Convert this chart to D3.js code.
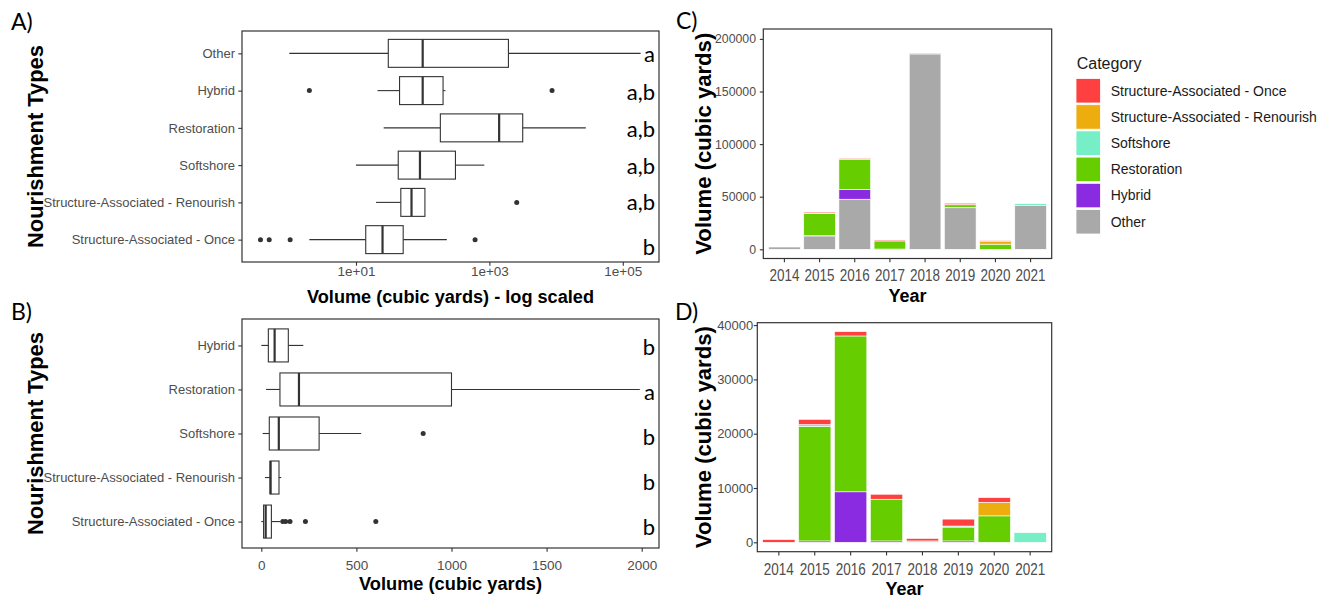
<!DOCTYPE html>
<html><head><meta charset="utf-8">
<script src="https://cdn.jsdelivr.net/npm/d3@7"></script>
<style>body{margin:0;background:#fff}svg{display:block}</style>
</head><body>
<svg id="c" width="1334" height="599"></svg>
<script>
// ---------- DATA ----------
// Panel A (log scale)
const catsA = ["Other","Hybrid","Restoration","Softshore","Structure-Associated - Renourish","Structure-Associated - Once"];
const lowA  = [1.0, 21, 26, 10, 20, 2.0];
const q1A   = [30.5, 45, 184, 43, 47, 14];
const medA  = [100, 100, 1400, 91, 68, 25];
const q3A   = [1930, 202, 3160, 310, 108, 51];
const highA = [185000, 219, 27900, 840, 108, 230];
const outA  = [[], [2, 8700], [], [], [2570], [0.37, 0.5, 1.03, 610]];
const sigA  = ["a","a,b","a,b","a,b","a,b","b"];
const ticksA = [10, 1000, 100000];
const tickLabelsA = ["1e+01","1e+03","1e+05"];

// Panel B (linear)
const catsB = ["Hybrid","Restoration","Softshore","Structure-Associated - Renourish","Structure-Associated - Once"];
const lowB  = [0, 25, 7, 19, 0];
const q1B   = [37, 98, 42, 46, 12];
const medB  = [70, 198, 92, 49, 23];
const q3B   = [142, 1000, 304, 93, 53];
const highB = [221, 1990, 525, 105, 100];
const outB  = [[], [], [851], [], [113, 128, 151, 232, 602]];
const sigB  = ["b","a","b","b","b"];
const ticksB = [0, 500, 1000, 1500, 2000];

// Panels C & D (stacked bars)
const years = ["2014","2015","2016","2017","2018","2019","2020","2021"];
const legendCats = ["Structure-Associated - Once","Structure-Associated - Renourish","Softshore","Restoration","Hybrid","Other"];
const legendColors = ["#FF4040","#EEAD0E","#76EEC6","#66CD00","#8A2BE2","#A9A9A9"];
const once        = [500, 980, 800, 920, 450, 1280, 855, 0];
const renourish   = [0, 0, 0, 0, 0, 0, 2500, 0];
const softshore   = [0, 370, 0, 0, 250, 190, 0, 1770];
const restoration = [0, 21050, 28700, 7680, 0, 2550, 4870, 0];
const hybrid      = [0, 250, 9300, 250, 0, 250, 0, 0];
const other       = [2300, 12700, 47600, 0, 185700, 39500, 0, 41600];
const ticksC = [0, 50000, 100000, 150000, 200000];
const ticksD = [0, 10000, 20000, 30000, 40000];

// ---------- LAYOUT ----------
const svg = d3.select("#c");
svg.append("rect").attr("width",1334).attr("height",599).attr("fill","#fff");
const SANS = "'Liberation Sans', Arial, sans-serif";
const HUMAN = "Lato, 'Open Sans', sans-serif";
const INK = "#333333", TICKTXT = "#4D4D4D";

function panelLetter(t, x, y){
  svg.append("text").attr("x",x).attr("y",y).text(t)
    .attr("font-family",HUMAN).attr("font-size",23).attr("fill","#000");
}
function title(t, x, y, size, rot, len){
  const el = svg.append("text").text(t)
    .attr("font-family",SANS).attr("font-weight","bold").attr("font-size",size)
    .attr("fill","#000").attr("text-anchor","middle")
    .attr("transform",`translate(${x},${y})` + (rot ? " rotate(-90)" : ""));
  if (len) el.attr("textLength",len).attr("lengthAdjust","spacingAndGlyphs");
}

function boxPanel(o){
  const g = svg.append("g");
  const x = o.x, y = o.y, bh = y.step()*0.75;
  const rows = o.cats.map((c,i)=>({c, i, lo:o.low[i], q1:o.q1[i], md:o.med[i], q3:o.q3[i], hi:o.high[i], out:o.out[i]}));
  const r = g.selectAll("g.row").data(rows).join("g").attr("class","row");
  r.append("line").attr("x1",d=>x(d.lo)).attr("x2",d=>x(d.q1)).attr("y1",d=>y(d.c)).attr("y2",d=>y(d.c))
    .attr("stroke",INK).attr("stroke-width",1.1);
  r.append("line").attr("x1",d=>x(d.q3)).attr("x2",d=>x(d.hi)).attr("y1",d=>y(d.c)).attr("y2",d=>y(d.c))
    .attr("stroke",INK).attr("stroke-width",1.1);
  r.append("rect").attr("x",d=>x(d.q1)).attr("y",d=>y(d.c)-bh/2).attr("width",d=>x(d.q3)-x(d.q1)).attr("height",bh)
    .attr("fill","#fff").attr("stroke",INK).attr("stroke-width",1.1);
  r.append("line").attr("x1",d=>x(d.md)).attr("x2",d=>x(d.md)).attr("y1",d=>y(d.c)-bh/2).attr("y2",d=>y(d.c)+bh/2)
    .attr("stroke",INK).attr("stroke-width",2.2);
  r.each(function(d){
    d3.select(this).selectAll("circle").data(d.out).join("circle")
      .attr("cx",v=>x(v)).attr("cy",y(d.c)).attr("r",2.5).attr("fill",INK);
  });
  // significance letters
  g.selectAll("text.sig").data(rows).join("text").attr("class","sig")
    .attr("x",655).attr("y",d=>y(d.c)+o.sigDy[d.i]).attr("text-anchor","end")
    .attr("font-family",HUMAN).attr("font-size",22).attr("fill","#000").text(d=>o.sig[d.i]);
  // axes
  const [x0,x1] = x.range(), [y0,y1] = [o.top,o.bottom];
  const ax = d3.axisBottom(x).tickValues(o.ticks).tickFormat((d,i)=>o.tickLabels[i]).tickSize(3.7).tickSizeOuter(0);
  const gx = g.append("g").attr("transform",`translate(0,${y1})`).call(ax);
  gx.select(".domain").remove();
  gx.selectAll("line").attr("stroke",INK).attr("stroke-width",1.1);
  gx.selectAll("text").attr("y",o.xLabelY - y1).attr("dy",null)
    .attr("font-family",SANS).attr("font-size",13.5).attr("fill",TICKTXT);
  const ay = d3.axisLeft(y).tickSize(3.7).tickPadding(3.3);
  const gy = g.append("g").attr("transform",`translate(${x0},0)`).call(ay);
  gy.select(".domain").remove();
  gy.selectAll("line").attr("stroke",INK).attr("stroke-width",1.1);
  gy.selectAll("text").attr("font-family",SANS).attr("font-size",13).attr("fill",TICKTXT);
  g.append("rect").attr("x",x0).attr("y",y0).attr("width",x1-x0).attr("height",y1-y0)
    .attr("fill","none").attr("stroke",INK).attr("stroke-width",1.2);
}

// Panel A
{
  const top=31, bottom=262;
  const x = d3.scaleLog().domain([Math.pow(10,-0.709), Math.pow(10,5.543)]).range([242,659]);
  const y = d3.scalePoint().domain(catsA).range([top,bottom]).padding(0.6);
  boxPanel({x,y,cats:catsA,low:lowA,q1:q1A,med:medA,q3:q3A,high:highA,out:outA,sig:sigA,
    sigDy:[8.6,9.3,9,8.8,7.5,15.2],ticks:ticksA,tickLabels:tickLabelsA,top,bottom,xLabelY:275.5});
  panelLetter("A)",11,30);
  title("Nourishment Types",43,(top+bottom)/2,22,true,203);
  title("Volume (cubic yards) - log scaled",450.5,303,18,false,287);
}
// Panel B
{
  const top=319, bottom=548;
  const x = d3.scaleLinear().domain([-101.5,2091]).range([242,659]);
  const y = d3.scalePoint().domain(catsB).range([top,bottom]).padding(0.6);
  boxPanel({x,y,cats:catsB,low:lowB,q1:q1B,med:medB,q3:q3B,high:highB,out:outB,sig:sigB,
    sigDy:[9.6,10.5,11.5,12.4,13.4],ticks:ticksB,tickLabels:ticksB.map(String),top,bottom,xLabelY:570});
  panelLetter("B)",11,320);
  title("Nourishment Types",43,(top+bottom)/2,22,true,203);
  title("Volume (cubic yards)",450.5,590,18,false,183);
}

// Stacked bar panels
const stackKeys = ["Other","Hybrid","Restoration","Softshore","Structure-Associated - Renourish","Structure-Associated - Once"];
const colorOf = d3.scaleOrdinal().domain(legendCats).range(legendColors);
function barPanel(o){
  const g = svg.append("g");
  const rows = years.map((yr,i)=>{
    const r = {year:yr};
    r["Other"] = o.includeOther ? other[i] : 0;
    r["Hybrid"] = hybrid[i]; r["Restoration"] = restoration[i]; r["Softshore"] = softshore[i];
    r["Structure-Associated - Renourish"] = renourish[i]; r["Structure-Associated - Once"] = once[i];
    return r;
  });
  const keys = o.includeOther ? stackKeys : stackKeys.slice(1);
  const series = d3.stack().keys(keys)(rows);
  const x = d3.scaleBand().domain(years).range([o.left,o.right]).paddingInner(0.1).paddingOuter(0.15);
  const y = d3.scaleLinear().domain(o.yDomain).range([o.bottom,o.top]);
  g.selectAll("g.s").data(series).join("g").attr("class","s").attr("fill",s=>colorOf(s.key))
    .selectAll("rect").data(s=>s.filter(d=>d[1]-d[0]>0)).join("rect")
    .attr("x",d=>x(d.data.year)).attr("width",x.bandwidth())
    .attr("y",d=>y(d[1])).attr("height",d=>y(d[0])-y(d[1]))
    .attr("stroke","#fff").attr("stroke-width",0.6);
  const gx = g.append("g").attr("transform",`translate(0,${o.bottom})`)
    .call(d3.axisBottom(x).tickSize(3.7).tickSizeOuter(0));
  gx.select(".domain").remove();
  gx.selectAll("line").attr("stroke",INK).attr("stroke-width",1.1);
  gx.selectAll("text").attr("y",o.xLabelY - o.bottom).attr("dy",null)
    .attr("font-family",SANS).attr("font-size",17).attr("fill",TICKTXT)
    .attr("textLength",30).attr("lengthAdjust","spacingAndGlyphs");
  const gy = g.append("g").attr("transform",`translate(${o.left},0)`)
    .call(d3.axisLeft(y).tickValues(o.ticks).tickFormat(d3.format("d")).tickSize(3.5).tickPadding(o.yPad));
  gy.select(".domain").remove();
  gy.selectAll("line").attr("stroke",INK).attr("stroke-width",1.1);
  gy.selectAll("text").attr("font-family",SANS).attr("font-size",o.ySize).attr("fill",TICKTXT);
  g.append("rect").attr("x",o.left).attr("y",o.top).attr("width",o.right-o.left).attr("height",o.bottom-o.top)
    .attr("fill","none").attr("stroke",INK).attr("stroke-width",1.2);
  title("Volume (cubic yards)",711,(o.top+o.bottom)/2,22,true,222);
  title("Year",(o.left+o.right)/2,o.titleY,18,false,38);
}
barPanel({includeOther:true,left:763.3,right:1051.7,top:29,bottom:258.5,yDomain:[-8745,209410],
  ticks:ticksC,xLabelY:281,titleY:302,ySize:12.3,yPad:3.8});
panelLetter("C)",676,29);
barPanel({includeOther:false,left:757.3,right:1051.7,top:322.7,bottom:551.7,yDomain:[-1731,40442],
  ticks:ticksD,xLabelY:575,titleY:595,ySize:13,yPad:0.5});
panelLetter("D)",675,320);

// Legend
{
  const lg = svg.append("g");
  lg.append("text").attr("x",1076.7).attr("y",69).text("Category")
    .attr("font-family",SANS).attr("font-size",16).attr("fill","#1A1A1A");
  const it = lg.selectAll("g.it").data(legendCats).join("g").attr("class","it")
    .attr("transform",(d,i)=>`translate(1076,${78.5 + i*26.2})`);
  it.append("rect").attr("width",24.5).attr("height",24.5).attr("fill",d=>colorOf(d))
    .attr("stroke","#fff").attr("stroke-width",0.8);
  it.append("text").attr("x",34.7).attr("y",12.25).attr("dy","0.35em").text(d=>d)
    .attr("font-family",SANS).attr("font-size",14).attr("fill","#1A1A1A");
}
</script>
</body></html>
